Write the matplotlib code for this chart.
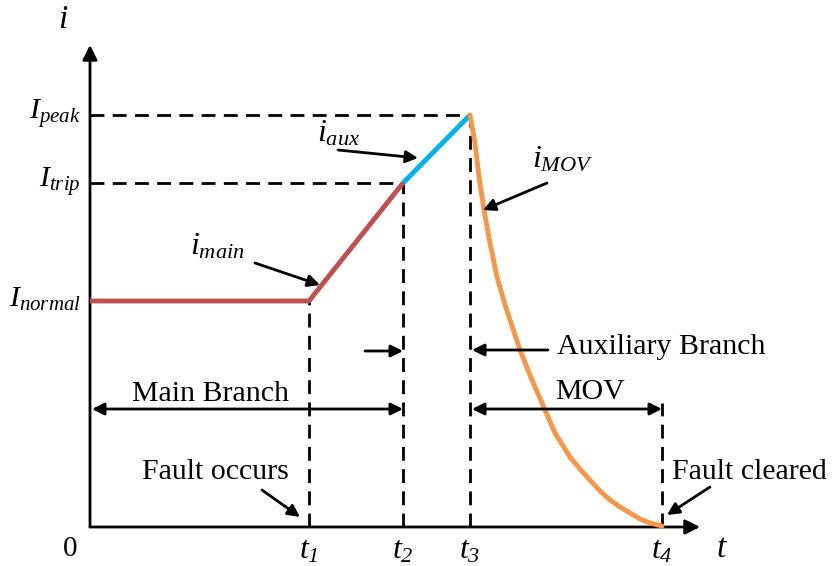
import matplotlib.pyplot as plt

plt.rcParams['font.family'] = 'Liberation Serif'
plt.rcParams['mathtext.fontset'] = 'custom'
plt.rcParams['mathtext.rm'] = 'Liberation Serif:italic'
plt.rcParams['mathtext.it'] = 'Liberation Serif:italic'

# time instants and current levels (arbitrary units, origin at 0)
t_marks = [219, 313, 380, 572]
t_labels = [r'$t_1$', r'$t_2$', r'$t_3$', r'$t_4$']
I_levels = [226, 344, 412]
I_labels = [r'$I_{normal}$', r'$I_{trip}$', r'$I_{peak}$']

# branch currents
t_main = [0, 219, 313]
i_main = [226, 226, 344]
t_aux = [313, 380]
i_aux = [344, 412]
t_mov = [380, 385, 389, 394, 400, 407, 416, 430, 442, 455, 465, 480, 490, 500,
         510, 520, 530, 540, 550, 560, 572]
i_mov = [412, 384, 350, 317, 284, 250, 219, 177, 147, 117, 94, 70, 58, 47,
         36, 27, 20, 14, 8, 4, 1]

fig = plt.figure(figsize=(8.33, 5.66), dpi=100)
ax = fig.add_axes([0, 0, 1, 1])
ax.set_xlim(-90, 743)
ax.set_ylim(-39, 527)
ax.axis('off')

arrow_kw = dict(arrowstyle='-|>', color='black', lw=2, mutation_scale=22, shrinkA=0, shrinkB=0)
head_kw = dict(arrowstyle='-|>', color='black', lw=2, mutation_scale=18, shrinkA=0, shrinkB=0)
both_kw = dict(arrowstyle='<|-|>', color='black', lw=2, mutation_scale=18, shrinkA=0, shrinkB=0)

# axes with arrow heads
ax.annotate('', xy=(0, 482), xytext=(0, 0), arrowprops=arrow_kw)
ax.annotate('', xy=(610, 0), xytext=(0, 0), arrowprops=arrow_kw)
ax.text(-27, 507, r'$i$', fontsize=24, ha='center', va='center')
ax.text(632, -22, r'$t$', fontsize=24, ha='center', va='center')
ax.text(-20, -22, '0', fontsize=21, ha='center', va='center')

dash = dict(color='black', lw=2, linestyle=(0, (5, 3)))

# horizontal guide lines
ax.plot([0, t_marks[2]], [I_levels[2], I_levels[2]], **dash)
ax.plot([0, t_marks[1]], [I_levels[1], I_levels[1]], **dash)

# vertical guide lines
ax.plot([t_marks[0], t_marks[0]], [0, I_levels[0]], **dash)
ax.plot([t_marks[1], t_marks[1]], [0, I_levels[1]], **dash)
ax.plot([t_marks[2], t_marks[2]], [0, I_levels[2]], **dash)
ax.plot([t_marks[3], t_marks[3]], [0, 124], **dash)

# currents
ax.plot(t_main, i_main, color='#C0504D', lw=3.5, solid_capstyle='butt', zorder=3)
ax.plot(t_aux, i_aux, color='#00B0F0', lw=3.5, solid_capstyle='butt', zorder=3)
ax.plot(t_mov, i_mov, color='#F79646', lw=3.5, solid_capstyle='round',
        solid_joinstyle='round', zorder=3)

# tick labels
for t, lab in zip(t_marks, t_labels):
    ax.text(t, -24, lab, fontsize=23, ha='center', va='center')
for lev, lab in zip(I_levels, I_labels):
    ax.text(-9, lev + 2, lab, fontsize=21.5, ha='right', va='center')

# curve annotations
ax.text(227, 393, r'$i_{aux}$', fontsize=23, ha='left', va='center')
ax.annotate('', xy=(328, 369), xytext=(248, 377), arrowprops=head_kw)
ax.text(442, 367, r'$i_{MOV}$', fontsize=23, ha='left', va='center')
ax.annotate('', xy=(393, 317), xytext=(457, 344), arrowprops=head_kw)
ax.text(100, 280, r'$i_{main}$', fontsize=23, ha='left', va='center')
ax.annotate('', xy=(230, 242), xytext=(165, 264), arrowprops=head_kw)

# branch intervals
ax.annotate('', xy=(t_marks[1], 118), xytext=(2, 118), arrowprops=both_kw)
ax.text(120, 133, 'Main Branch', fontsize=21.5, ha='center', va='center')
ax.annotate('', xy=(t_marks[1], 176), xytext=(275, 176), arrowprops=head_kw)
ax.annotate('', xy=(t_marks[2] + 2, 177), xytext=(458, 177), arrowprops=head_kw)
ax.text(467, 180, 'Auxiliary Branch', fontsize=21.5, ha='left', va='center')
ax.annotate('', xy=(t_marks[3], 118), xytext=(t_marks[2] + 2, 118), arrowprops=both_kw)
ax.text(500, 135, 'MOV', fontsize=21.5, ha='center', va='center')

# events
ax.text(125, 55, 'Fault occurs', fontsize=21.5, ha='center', va='center')
ax.annotate('', xy=(210, 10), xytext=(172, 37), arrowprops=head_kw)
ax.text(582, 55, 'Fault cleared', fontsize=21.5, ha='left', va='center')
ax.annotate('', xy=(577, 12), xytext=(620, 40), arrowprops=head_kw)

fig.savefig('out.png', dpi=100)
